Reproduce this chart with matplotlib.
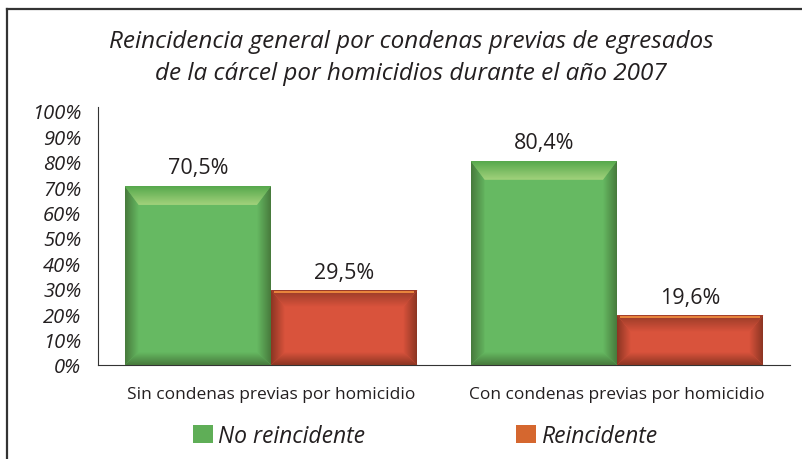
import numpy as np
import matplotlib
matplotlib.use('Agg')
import matplotlib.pyplot as plt
from matplotlib.patches import Polygon, Patch
from matplotlib.colors import to_rgb
from matplotlib.lines import Line2D

# datos
categorias = ['Sin condenas previas por homicidio', 'Con condenas previas por homicidio']
no_reincidente = [70.5, 80.4]
reincidente = [29.5, 19.6]
etiquetas_no = ['70,5%', '80,4%']
etiquetas_si = ['29,5%', '19,6%']
ticks_y = [0, 10, 20, 30, 40, 50, 60, 70, 80, 90, 100]
titulo = 'Reincidencia general por condenas previas de egresados\nde la cárcel por homicidios durante el año 2007'

plt.rcParams['font.family'] = ['Open Sans', 'DejaVu Sans']

W, H = 803, 460
fig = plt.figure(figsize=(W / 100, H / 100), dpi=100)
ax = fig.add_axes([98 / W, (H - 366) / H, (790 - 98) / W, (366 - 112) / H])

x = np.arange(len(categorias))
ancho = 0.423

verde = '#66b962'
rojo = '#d9533c'
b1 = ax.bar(x - ancho / 2, no_reincidente, ancho, color=verde, zorder=2)
b2 = ax.bar(x + ancho / 2, reincidente, ancho, color=rojo, zorder=2)

ax.set_xlim(-0.5, 1.5)
ax.set_ylim(0, 100)

# px -> unidades de datos
pxx = 2.0 / (790 - 98)
pxy = 100.0 / (366 - 112)


def grad_poly(verts, c0, c1, horizontal=False):
    # relleno en degradado recortado a un poligono
    verts = np.array(verts)
    xmin, xmax = verts[:, 0].min(), verts[:, 0].max()
    ymin, ymax = verts[:, 1].min(), verts[:, 1].max()
    t = np.linspace(0, 1, 64)
    a = np.array(to_rgb(c0))
    b = np.array(to_rgb(c1))
    col = a[None, :] * (1 - t[:, None]) + b[None, :] * t[:, None]
    if horizontal:
        img = col[None, :, :]
    else:
        img = col[:, None, :]
    im = ax.imshow(img, extent=[xmin, xmax, ymin, ymax], origin='lower',
                   aspect='auto', interpolation='bilinear', zorder=3)
    p = Polygon(verts, closed=True, facecolor='none', edgecolor='none', transform=ax.transData)
    ax.add_patch(p)
    im.set_clip_path(p)


def bisel(bar, base, oscuro, claro, tipo):
    x0 = bar.get_x()
    x1 = x0 + bar.get_width()
    y1 = bar.get_height()
    sx = 14 * pxx
    sb = 13 * pxy
    st = 19 * pxy if tipo == 'verde' else 17 * pxy
    # lados
    grad_poly([(x0, 0), (x0 + sx, sb), (x0 + sx, y1 - st), (x0, y1)], oscuro, base, horizontal=True)
    grad_poly([(x1, 0), (x1 - sx, sb), (x1 - sx, y1 - st), (x1, y1)], base, oscuro, horizontal=True)
    # abajo
    grad_poly([(x0, 0), (x1, 0), (x1 - sx, sb), (x0 + sx, sb)], oscuro, base)
    # arriba
    if tipo == 'verde':
        grad_poly([(x0, y1), (x1, y1), (x1 - sx, y1 - st), (x0 + sx, y1 - st)], claro, '#56a84c')
    else:
        grad_poly([(x0, y1), (x1, y1), (x1 - sx, y1 - st), (x0 + sx, y1 - st)], base, '#963a27')
        ax.fill_between([x0 + 3 * pxx, x1 - 3 * pxx], y1 - 3 * pxy, y1 - 1 * pxy, color=claro, zorder=4, lw=0)
    ax.set_xlim(-0.5, 1.5)
    ax.set_ylim(0, 100)


for b in b1:
    bisel(b, verde, '#477a3c', '#a2d27c', 'verde')
for b in b2:
    bisel(b, rojo, '#8c3523', '#e8843c', 'rojo')

# etiquetas de valor
for i in range(len(categorias)):
    ax.annotate(etiquetas_no[i], (x[i] - ancho / 2, no_reincidente[i]), xytext=(0, 13),
                textcoords='offset points', ha='center', va='center', fontsize=15.5, color='#231f20')
    ax.annotate(etiquetas_si[i], (x[i] + ancho / 2, reincidente[i]), xytext=(0, 13),
                textcoords='offset points', ha='center', va='center', fontsize=15.5, color='#231f20')

ax.set_yticks(ticks_y)
ax.set_yticklabels(['%d%%' % t for t in ticks_y], fontsize=14.5, style='italic', color='#231f20')
ax.set_xticks(x)
ax.set_xticklabels(categorias, fontsize=12.5, color='#231f20')
ax.tick_params(axis='y', length=0, pad=12)
ax.tick_params(axis='x', length=0, pad=15)
for s in ['top', 'right']:
    ax.spines[s].set_visible(False)
ax.spines['left'].set_color('#333333')
ax.spines['bottom'].set_color('#333333')
ax.spines['left'].set_bounds(0, 101.5)

fig.text(411 / W, 1 - 58 / H, titulo, ha='center', va='center', fontsize=17.5,
         style='italic', color='#231f20', linespacing=1.4)

# leyenda
handles = [Patch(facecolor='#5fae57', edgecolor='none'), Patch(facecolor='#d5672f', edgecolor='none')]
fig.legend(handles, ['No reincidente', 'Reincidente'], loc='center', bbox_to_anchor=(425 / W, 1 - 437 / H),
           ncol=2, frameon=False, prop={'size': 16.5, 'style': 'italic'}, handlelength=0.87,
           handleheight=0.87, handletextpad=0.22, columnspacing=6.6, labelcolor='#231f20')

# marco
fig.add_artist(Line2D([7 / W, 1], [1 - 10 / H, 1 - 10 / H], color='#333333', lw=1.6))
fig.add_artist(Line2D([7 / W, 7 / W], [0, 1 - 10 / H], color='#333333', lw=1.6))

fig.savefig('out.png', dpi=100)
